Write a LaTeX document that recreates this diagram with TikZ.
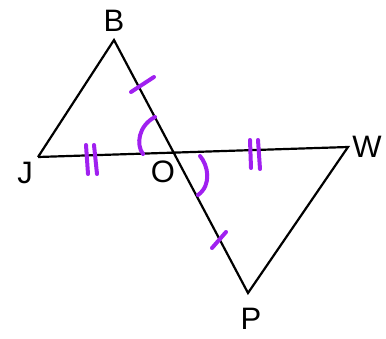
\documentclass[tikz,border=0pt]{standalone}
\usepackage{fontspec}
\setmainfont{Liberation Sans}
\usepackage{xcolor}
\usepackage{tikz}
\usetikzlibrary{calc}

\definecolor{markpurple}{RGB}{160,32,240}

\begin{document}
\begin{tikzpicture}[
    x=1pt, y=-1pt,
    seg/.style={draw=black, line width=2.2pt, line join=miter},
    tick/.style={draw=markpurple, line width=4pt, line cap=round},
    angmark/.style={draw=markpurple, line width=4pt, line cap=round},
    vlbl/.style={font=\fontsize{31}{36}\selectfont, inner sep=0pt}
]
\useasboundingbox (0,0) rectangle (386,338);

% Vertices
\coordinate (B) at (114,40);
\coordinate (J) at (38,157);
\coordinate (O) at (174,153);
\coordinate (W) at (348,147);
\coordinate (P) at (248,293);

% Two triangles crossing at O
\draw[seg] (J) -- (B) -- (P) -- (W) -- (J);

% Labels
\node[vlbl] (lB) at (114,21) {B};
\node[vlbl] (lJ) at (25,173) {J};
\node[vlbl] (lO) at (163,172) {O};
\node[vlbl] (lW) at (367,147) {W};
\node[vlbl] (lP) at (251,319) {P};

% Single ticks on BO and OP
\draw[tick] (131,92) -- (154,77);
\draw[tick] (212,248) -- (226,232);

% Double ticks on JO and OW
\draw[tick] (86,145) -- (88,174);
\draw[tick] (94,145) -- (97,174);
\draw[tick] (250,140) -- (251,168);
\draw[tick] (258,140) -- (260,169);

% Vertical angles at O
\draw[angmark] (155,117) .. controls (138,126) and (136,145) .. (143,154);
\draw[angmark] (200,156) .. controls (208,165) and (212,185) .. (198,195);

\end{tikzpicture}
\end{document}
